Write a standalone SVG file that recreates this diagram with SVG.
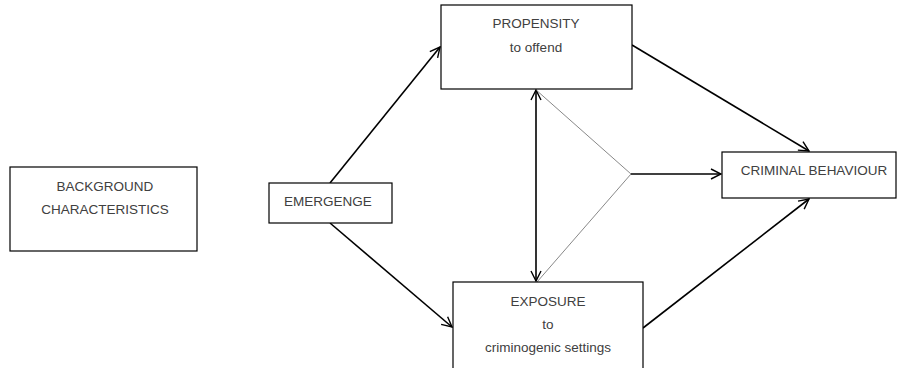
<svg xmlns="http://www.w3.org/2000/svg" width="898" height="368" viewBox="0 0 898 368">
<style>
.box{fill:#fff;stroke:#000;stroke-width:1.2}
.t{font-family:"Liberation Sans",Arial,sans-serif;font-size:13.5px;fill:#404040;text-anchor:middle}
.c{stroke:#000;stroke-width:1.6;fill:none}
.thin{stroke:#555;stroke-width:0.7;fill:none}
</style>
<defs>
<marker id="ah" viewBox="0 0 12 12" refX="11" refY="6" markerWidth="12" markerHeight="12" markerUnits="userSpaceOnUse" orient="auto-start-reverse">
<path d="M1,1 L11,6 L1,11" fill="none" stroke="#000" stroke-width="1.4"/>
</marker>
</defs>
<rect width="898" height="368" fill="#fff"/>
<g id="connectors">
<line class="c" x1="330" y1="183" x2="440" y2="47" marker-end="url(#ah)"/>
<line class="c" x1="330" y1="223" x2="452" y2="327" marker-end="url(#ah)"/>
<line class="c" x1="632" y1="45" x2="809" y2="151" marker-end="url(#ah)"/>
<line class="c" x1="643" y1="328" x2="809" y2="199" marker-end="url(#ah)"/>
<line class="c" x1="536" y1="90" x2="536" y2="281" marker-start="url(#ah)" marker-end="url(#ah)"/>
<polyline class="thin" points="535,89 631,174 537,282"/>
<line class="c" x1="631" y1="174" x2="721" y2="174" marker-end="url(#ah)"/>
</g>
<g id="background">
<rect class="box" x="10" y="167" width="187" height="84"/>
<text class="t" x="105" y="191">BACKGROUND</text>
<text class="t" x="105" y="214">CHARACTERISTICS</text>
</g>
<g id="emergence">
<rect class="box" x="269" y="183" width="123" height="40"/>
<text class="t" x="328" y="206">EMERGENGE</text>
</g>
<g id="propensity">
<rect class="box" x="441" y="5" width="191" height="84"/>
<text class="t" x="536" y="28">PROPENSITY</text>
<text class="t" x="536" y="52">to offend</text>
</g>
<g id="criminal">
<rect class="box" x="722" y="152" width="174" height="46"/>
<text class="t" x="814" y="175">CRIMINAL BEHAVIOUR</text>
</g>
<g id="exposure">
<rect class="box" x="453" y="282" width="190" height="90"/>
<text class="t" x="548" y="306">EXPOSURE</text>
<text class="t" x="548" y="329">to</text>
<text class="t" x="548" y="352">criminogenic settings</text>
</g>
</svg>
